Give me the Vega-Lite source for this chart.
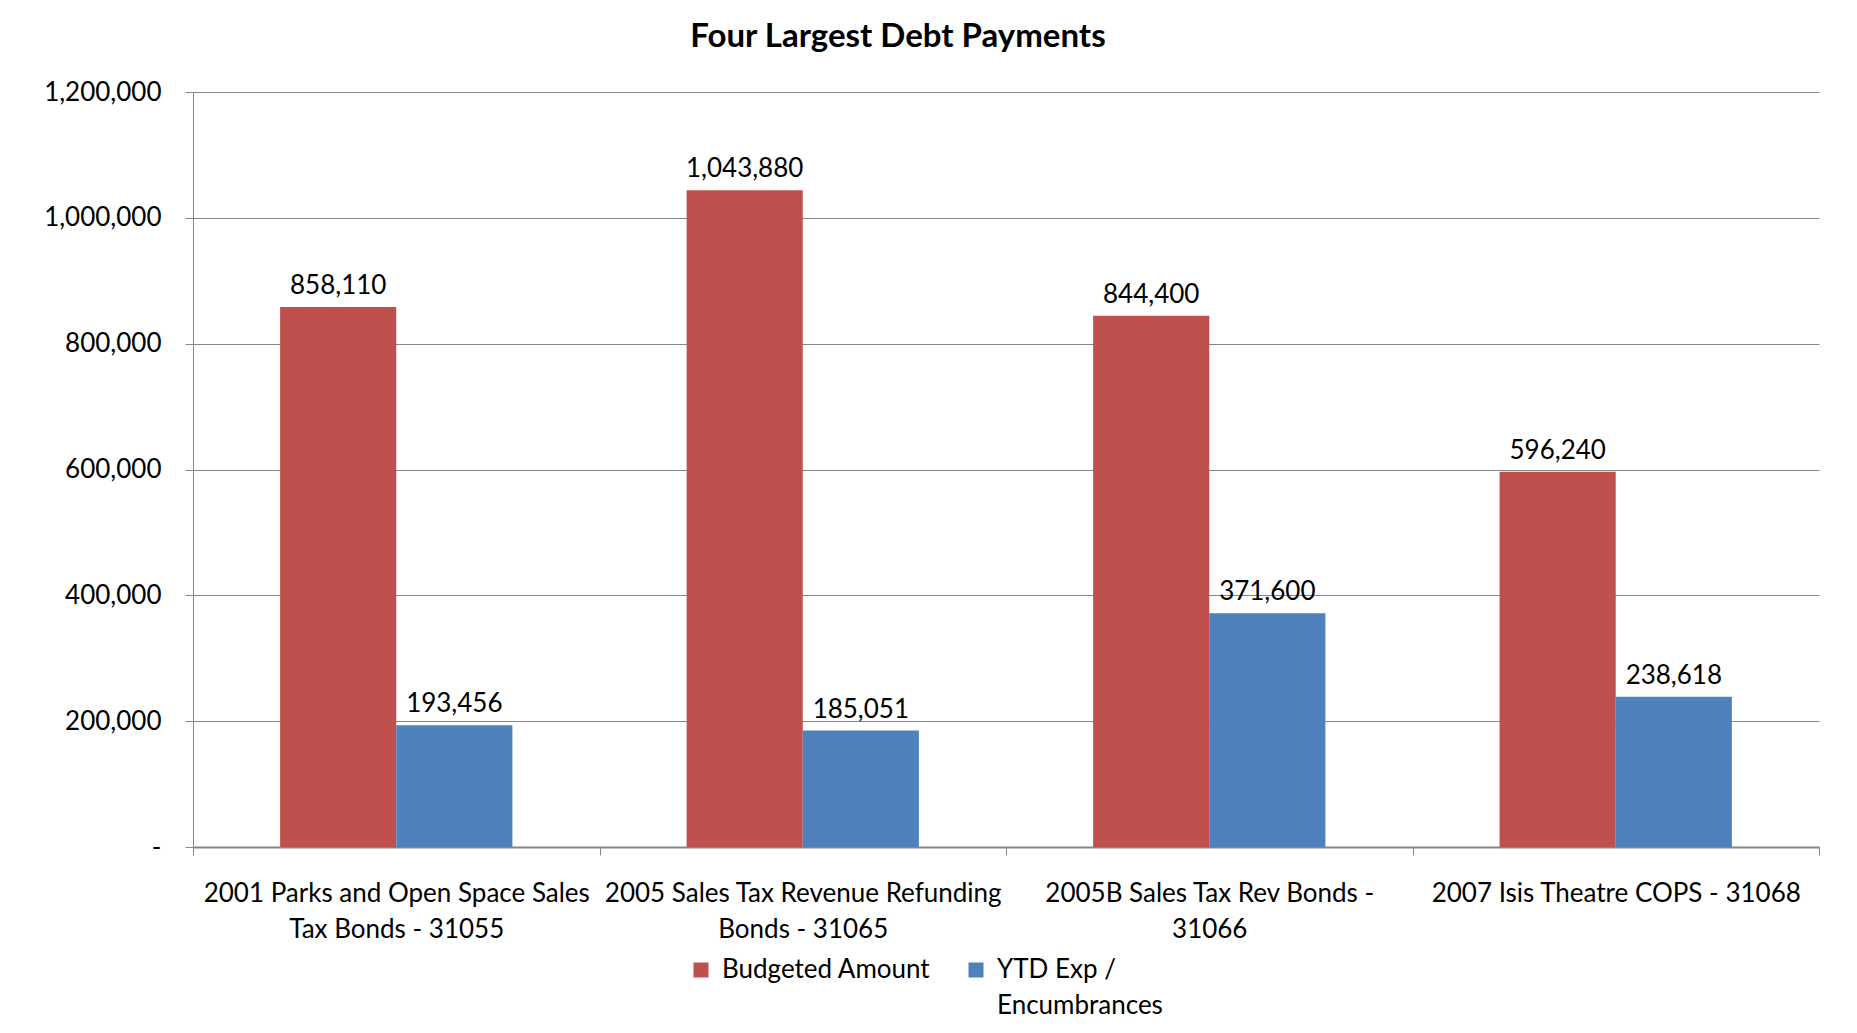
{
  "$schema": "https://vega.github.io/schema/vega-lite/v6.json",
  "width": 1626,
  "height": 755,
  "autosize": {"type": "none"},
  "padding": {"left": 193, "top": 92, "right": 38, "bottom": 186},
  "background": "white",
  "config": {
    "font": "Lato",
    "view": {"stroke": null},
    "axis": {"labelFont": "Lato", "labelColor": "black"},
    "style": {"guide-label": {"lineHeight": 36}}
  },
  "title": {
    "text": "Four Largest Debt Payments",
    "font": "Lato",
    "fontSize": 33,
    "fontWeight": "bold",
    "color": "black",
    "anchor": "middle",
    "dx": -108,
    "offset": 25
  },
  "data": {
    "values": [
      {"project": "2001 Parks and Open Space Sales Tax Bonds - 31055", "series": "Budgeted Amount", "amount": 858110},
      {"project": "2001 Parks and Open Space Sales Tax Bonds - 31055", "series": "YTD Exp / Encumbrances", "amount": 193456},
      {"project": "2005 Sales Tax Revenue Refunding Bonds - 31065", "series": "Budgeted Amount", "amount": 1043880},
      {"project": "2005 Sales Tax Revenue Refunding Bonds - 31065", "series": "YTD Exp / Encumbrances", "amount": 185051},
      {"project": "2005B Sales Tax Rev Bonds - 31066", "series": "Budgeted Amount", "amount": 844400},
      {"project": "2005B Sales Tax Rev Bonds - 31066", "series": "YTD Exp / Encumbrances", "amount": 371600},
      {"project": "2007 Isis Theatre COPS - 31068", "series": "Budgeted Amount", "amount": 596240},
      {"project": "2007 Isis Theatre COPS - 31068", "series": "YTD Exp / Encumbrances", "amount": 238618}
    ]
  },
  "encoding": {
    "x": {
      "field": "project",
      "type": "nominal",
      "sort": null,
      "scale": {"paddingInner": 0, "paddingOuter": 0},
      "axis": {
        "title": null,
        "labelAngle": 0,
        "labelFontSize": 26,
        "labelLineHeight": 36,
        "labelPadding": 25,
        "labelLimit": 600,
        "tickBand": "extent",
        "tickSize": 8,
        "tickColor": "#868686",
        "domainColor": "#868686",
        "domainWidth": 2,
        "labelExpr": "datum.label == '2001 Parks and Open Space Sales Tax Bonds - 31055' ? ['2001 Parks and Open Space Sales', 'Tax Bonds - 31055'] : datum.label == '2005 Sales Tax Revenue Refunding Bonds - 31065' ? ['2005 Sales Tax Revenue Refunding', 'Bonds - 31065'] : datum.label == '2005B Sales Tax Rev Bonds - 31066' ? ['2005B Sales Tax Rev Bonds -', '31066'] : datum.label"
      }
    },
    "xOffset": {
      "field": "series",
      "type": "nominal",
      "scale": {"paddingOuter": 0.75, "paddingInner": 0}
    },
    "y": {
      "field": "amount",
      "type": "quantitative",
      "scale": {"domain": [0, 1200000], "nice": false},
      "axis": {
        "title": null,
        "values": [0, 200000, 400000, 600000, 800000, 1000000, 1200000],
        "labelExpr": "datum.value == 0 ? '-' : format(datum.value, ',')",
        "labelFontSize": 26,
        "labelPadding": 24,
        "tickSize": 8,
        "tickColor": "#868686",
        "domainColor": "#868686",
        "gridColor": "#868686",
        "gridWidth": 1.2
      }
    }
  },
  "layer": [
    {
      "mark": {"type": "bar"},
      "encoding": {
        "color": {
          "field": "series",
          "type": "nominal",
          "scale": {"domain": ["Budgeted Amount", "YTD Exp / Encumbrances"], "range": ["#C0504D", "#4F81BD"]},
          "legend": {
            "title": null,
            "orient": "none",
            "legendX": 495,
            "legendY": 865,
            "direction": "horizontal",
            "columns": 2,
            "symbolType": "square",
            "symbolSize": 225,
            "symbolStrokeWidth": 0,
            "labelFontSize": 26,
            "labelFont": "Lato",
            "labelColor": "black",
            "labelLimit": 400,
            "labelOffset": 8,
            "columnPadding": 32,
            "labelExpr": "datum.label == 'YTD Exp / Encumbrances' ? ['YTD Exp /', 'Encumbrances'] : [datum.label, '']"
          }
        }
      }
    },
    {
      "mark": {"type": "text", "baseline": "middle", "dy": -21, "fontSize": 26, "font": "Lato", "color": "black"},
      "encoding": {
        "text": {"field": "amount", "type": "quantitative", "format": ","}
      }
    }
  ]
}
